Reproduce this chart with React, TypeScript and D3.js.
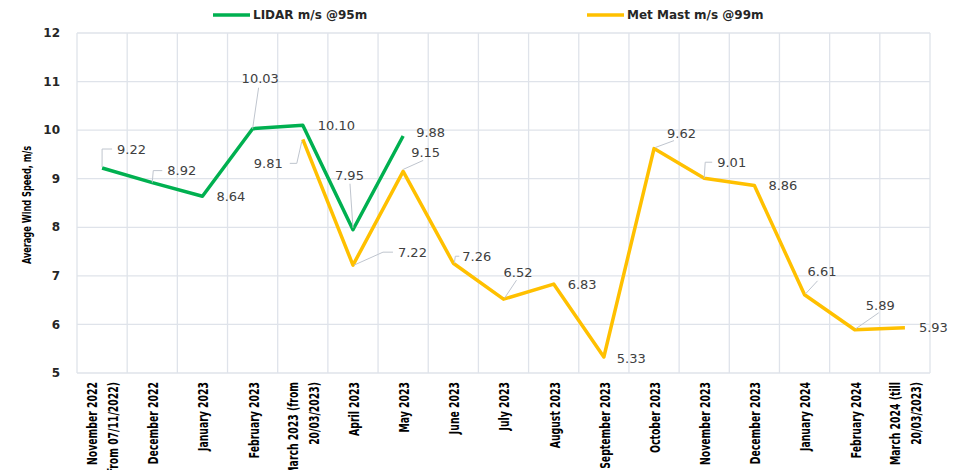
import { useEffect, useRef } from "react";
import * as d3 from "d3";

const categories = [
  "November 2022|(from 07/11/2022)",
  "December 2022",
  "January 2023",
  "February 2023",
  "March 2023 (from|20/03/2023)",
  "April 2023",
  "May 2023",
  "June 2023",
  "July 2023",
  "August 2023",
  "September 2023",
  "October 2023",
  "November 2023",
  "December 2023",
  "January 2024",
  "February 2024",
  "March 2024 (till|20/03/2023)",
];

const lidar: (number | null)[] = [9.22, 8.92, 8.64, 10.03, 10.1, 7.95, 9.88, null, null, null, null, null, null, null, null, null, null];
const metMast: (number | null)[] = [null, null, null, null, 9.81, 7.22, 9.15, 7.26, 6.52, 6.83, 5.33, 9.62, 9.01, 8.86, 6.61, 5.89, 5.93];

const yTicks = [5, 6, 7, 8, 9, 10, 11, 12];

// hand-placed label offsets (relative to point), like dragged Excel labels
type Lbl = { dx: number; dy: number; anchor?: string; leader?: [number, number][] };
const lidarLabels: Record<number, Lbl> = {
  0: { dx: 15, dy: -19, leader: [[0, -1], [0, -19], [10, -19]] },
  1: { dx: 15, dy: -12, leader: [[0, 0], [1, -12], [10, -12]] },
  2: { dx: 14, dy: 0 },
  3: { dx: -11, dy: -50, leader: [[0, 0], [6, -41]] },
  4: { dx: 15, dy: 0 },
  5: { dx: -18, dy: -54, leader: [[0, -2], [-3, -46]] },
  6: { dx: 13, dy: -4 },
};
const metLabels: Record<number, Lbl> = {
  4: { dx: -20, dy: 24, anchor: "end", leader: [[-13, 24], [-6, 24], [-1, 2]] },
  5: { dx: 45, dy: -13, leader: [[1, 0], [30, -13], [40, -13]] },
  6: { dx: 8, dy: -19, leader: [[0, -2], [20, -11]] },
  7: { dx: 9, dy: -7, leader: [[1, 0], [2, -7], [6, -7]] },
  8: { dx: 0, dy: -27, leader: [[1, -1], [13, -19]] },
  9: { dx: 14, dy: 0 },
  10: { dx: 13, dy: 1 },
  11: { dx: 13, dy: -15, leader: [[1, -1], [20, -8]] },
  12: { dx: 13, dy: -16, leader: [[0, 0], [1, -16], [8, -16]] },
  13: { dx: 14, dy: 0 },
  14: { dx: 3, dy: -23, leader: [[1, -1], [13, -14]] },
  15: { dx: 11, dy: -24, leader: [[1, -1], [24, -17]] },
  16: { dx: 14, dy: 0 },
};

const narrow = "'Liberation Sans Narrow', 'DejaVu Sans Condensed', sans-serif";

export default function App() {
  const svgRef = useRef<SVGSVGElement | null>(null);

  useEffect(() => {
    const W = 971, H = 470;
    const margin = { top: 33, right: 41, bottom: 97, left: 77 };
    const width = W - margin.left - margin.right;
    const height = H - margin.top - margin.bottom;

    const svg = d3.select(svgRef.current);
    svg.selectAll("*").remove();
    svg.attr("width", W).attr("height", H);
    svg.append("rect").attr("width", W).attr("height", H).attr("fill", "#fff");

    const g = svg.append("g").attr("transform", `translate(${margin.left},${margin.top})`);

    const x = d3.scaleBand().domain(categories.map((_, i) => String(i))).range([0, width]);
    const y = d3.scaleLinear().domain([5, 12]).range([height, 0]);
    const cx = (i: number) => (x(String(i)) as number) + x.bandwidth() / 2;

    const grid = "#dfe3ea";
    g.selectAll(".hg").data(yTicks).join("line")
      .attr("x1", 0).attr("x2", width)
      .attr("y1", d => y(d)).attr("y2", d => y(d))
      .attr("stroke", grid).attr("stroke-width", 1.3);
    g.selectAll(".vg").data(d3.range(categories.length + 1)).join("line")
      .attr("x1", d => d * x.bandwidth()).attr("x2", d => d * x.bandwidth())
      .attr("y1", 0).attr("y2", height)
      .attr("stroke", grid).attr("stroke-width", 1.3);

    // y tick labels
    g.selectAll(".yt").data(yTicks).join("text")
      .attr("x", -17).attr("y", d => y(d)).attr("dy", "0.35em")
      .attr("text-anchor", "end")
      .attr("font-family", "DejaVu Sans").attr("font-weight", "bold").attr("font-size", 12)
      .attr("fill", "#262626")
      .text(d => d);

    // y title (squeezed to look like a narrow face)
    svg.append("text")
      .attr("transform", `translate(27,${margin.top + height / 2 + 2}) rotate(-90) scale(0.76,1)`)
      .attr("text-anchor", "middle").attr("dy", "0.35em")
      .attr("font-family", narrow)
      .attr("font-weight", "bold").attr("font-size", 12).attr("fill", "#000")
      .text("Average Wind Speed, m/s");

    // x labels
    categories.forEach((c, i) => {
      const lines = c.split("|");
      lines.forEach((ln, k) => {
        const off = (k - (lines.length - 1) / 2) * 21;
        svg.append("text")
          .attr("transform", `translate(${margin.left + cx(i) + 1 + off},${margin.top + height + 9}) rotate(-90) scale(0.74,1)`)
          .attr("text-anchor", "end").attr("dy", "0.35em")
          .attr("font-family", narrow)
          .attr("font-weight", "bold").attr("font-size", 14).attr("fill", "#000")
          .text(ln);
      });
    });

    const line = d3.line<number | null>()
      .defined(d => d !== null)
      .x((_, i) => cx(i))
      .y(d => y(d as number));

    const series = [
      { data: metMast, color: "#ffc000", labels: metLabels },
      { data: lidar, color: "#00b050", labels: lidarLabels },
    ];

    series.forEach(s => {
      g.append("path").datum(s.data)
        .attr("fill", "none").attr("stroke", s.color).attr("stroke-width", 3.5)
        .attr("stroke-linejoin", "round")
        .attr("d", line);
    });

    series.forEach(s => {
      s.data.forEach((v, i) => {
        if (v === null) return;
        const lb = s.labels[i];
        if (!lb) return;
        const px = cx(i), py = y(v);
        if (lb.leader) {
          g.append("path")
            .attr("d", d3.line()(lb.leader.map(([a, b]) => [px + a, py + b])))
            .attr("fill", "none").attr("stroke", "#bfc5ce").attr("stroke-width", 1);
        }
        g.append("text")
          .attr("x", px + lb.dx).attr("y", py + lb.dy).attr("dy", "0.35em")
          .attr("text-anchor", lb.anchor || "start")
          .attr("font-family", "DejaVu Sans").attr("font-size", 13).attr("fill", "#404040")
          .text(v.toFixed(2));
      });
    });

    // legend
    const legend = [
      { name: "LIDAR m/s @95m", color: "#00b050", x: 213 },
      { name: "Met Mast m/s @99m", color: "#ffc000", x: 587 },
    ];
    legend.forEach(l => {
      svg.append("line").attr("x1", l.x).attr("x2", l.x + 37).attr("y1", 15).attr("y2", 15)
        .attr("stroke", l.color).attr("stroke-width", 3.5);
      svg.append("text").attr("x", l.x + 40).attr("y", 15).attr("dy", "0.35em")
        .attr("font-family", "DejaVu Sans").attr("font-weight", "bold").attr("font-size", 12)
        .attr("fill", "#262626").text(l.name);
    });
  }, []);

  return (
    <div style={{ position: "absolute", left: 0, top: 0 }}>
      <svg ref={svgRef} style={{ display: "block" }}></svg>
    </div>
  );
}
